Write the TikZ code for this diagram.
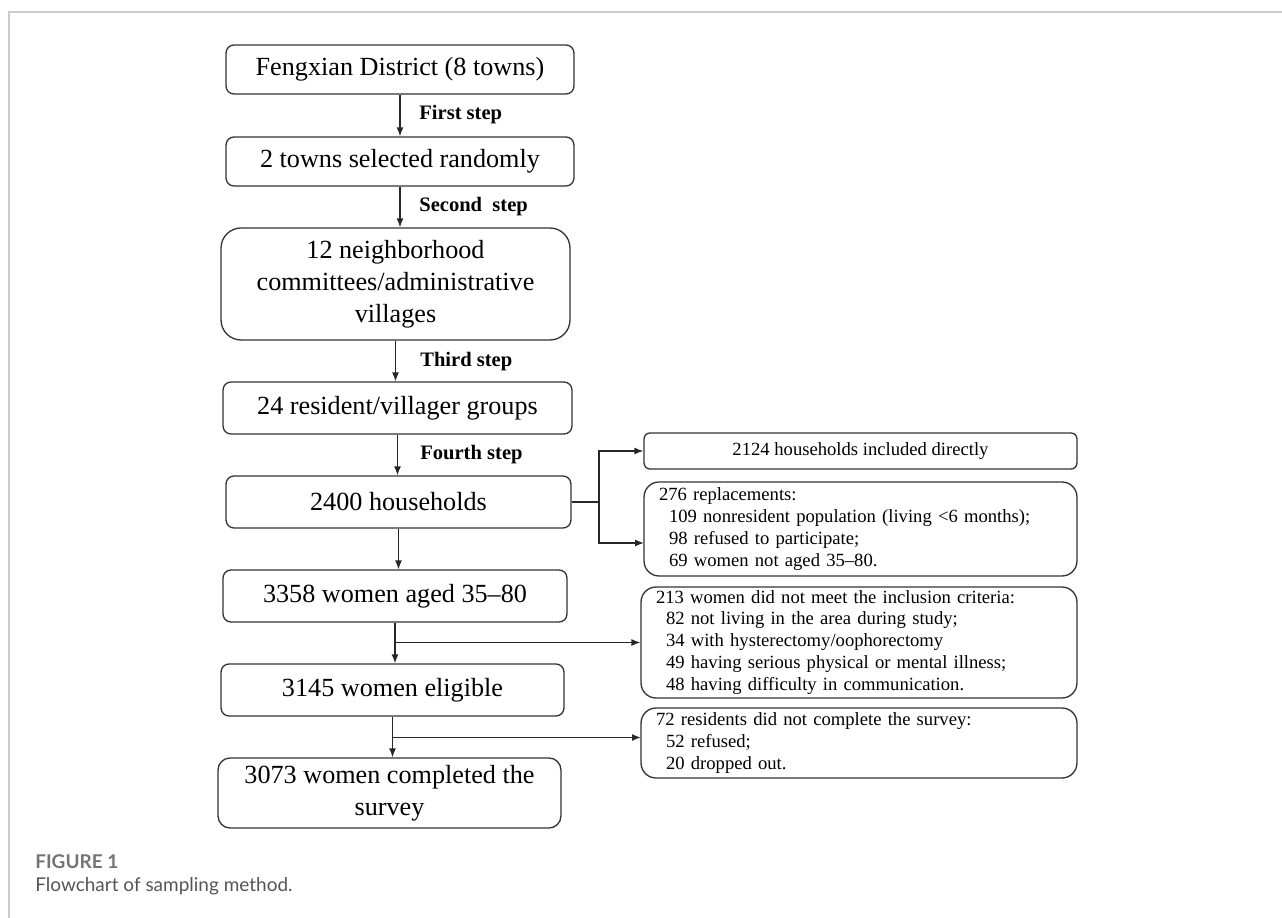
\documentclass[tikz,border=0pt]{standalone}
\usepackage{fontspec}
\setmainfont{Liberation Serif}
\newfontfamily\capfont{Lato}
\usepackage{tikz}
\usetikzlibrary{arrows.meta}

\definecolor{framegray}{HTML}{CCCCCC}
\definecolor{capgray}{HTML}{555555}
\definecolor{fignogray}{HTML}{747474}

\begin{document}
\begin{tikzpicture}[x=0.02cm, y=-0.02cm,
    mainbox/.style={draw=black!80, line width=0.75pt, rounded corners=0.16cm, align=center, inner sep=0pt,
        font=\fontsize{14.9}{18.2}\selectfont},
    sidebox/.style={draw=black!80, line width=0.75pt, rounded corners=0.3cm, align=left, inner ysep=0pt,
        inner xsep=0.3cm, font=\fontsize{10.6}{12.5}\selectfont},
    steplabel/.style={anchor=west, inner sep=0pt, font=\fontsize{11.7}{14}\selectfont\bfseries},
    arr/.style={-{Latex[length=0.18cm,width=0.14cm]}, line width=0.75pt, draw=black!85},
    link/.style={line width=0.75pt, draw=black!85}]

    % Page size and the frame lines at top and left
    \useasboundingbox (0,0) rectangle (1282,918);
    \draw[framegray, line width=0.85pt] (1282,12) -- (9,12) -- (9,918);

    % Main column of sampling stages
    \node[mainbox, minimum width=6.96cm, minimum height=0.98cm] (s1) at (400, 69.5) {Fengxian District (8 towns)};
    \node[mainbox, minimum width=6.96cm, minimum height=0.98cm] (s2) at (400, 161.5) {2 towns selected randomly};
    \node[mainbox, minimum width=6.98cm, minimum height=2.24cm, rounded corners=0.4cm] (s3) at (395.5, 284)
        {12 neighborhood\\committees/administrative\\villages};
    \node[mainbox, minimum width=6.98cm, minimum height=1.04cm] (s4) at (397.5, 408) {24 resident/villager groups};
    \node[mainbox, minimum width=6.9cm, minimum height=1.04cm] (s5) at (398.5, 502) {2400 households};
    \node[mainbox, minimum width=6.88cm, minimum height=1.04cm] (s6) at (395, 596) {3358 women aged 35--80};
    \node[mainbox, minimum width=6.86cm, minimum height=1.04cm] (s7) at (392.5, 690) {3145 women eligible};
    \node[mainbox, minimum width=6.86cm, minimum height=1.4cm, rounded corners=0.24cm] (s8) at (389.5, 793)
        {3073 women completed the\\survey};

    % Step labels beside the first four arrows
    \node[steplabel] (l1) at (419, 115) {First step};
    \node[steplabel] (l2) at (419, 207) {Second\ \ step};
    \node[steplabel] (l3) at (420, 362) {Third step};
    \node[steplabel] (l4) at (420, 455) {Fourth step};

    % Arrows down the main column
    \draw[arr] (s1.south) -- (s1.south |- s2.north);
    \draw[arr] (s2.south) -- (s2.south |- s3.north);
    \draw[arr] (s3.south) -- (s3.south |- s4.north);
    \draw[arr] (s4.south) -- (s4.south |- s5.north);
    \draw[arr] (s5.south) -- (s5.south |- s6.north);
    \draw[arr] (s6.south) -- (s6.south |- s7.north);
    \draw[arr] (s7.south) -- (s7.south |- s8.north);

    % Boxes on the right
    \node[sidebox, align=center, rounded corners=0.12cm, minimum width=8.66cm, minimum height=0.72cm] (direct)
        at (860.5, 451) {2124 households included directly};
    \node[sidebox, text width=8.06cm, minimum height=1.88cm] (replace) at (860.5, 529)
        {276 replacements:\\
         \hspace*{0.2cm}109 nonresident population (living <6 months);\\
         \hspace*{0.2cm}98 refused to participate;\\
         \hspace*{0.2cm}69 women not aged 35--80.};
    \node[sidebox, text width=8.12cm, minimum height=2.22cm] (exclude) at (859, 642.5)
        {213 women did not meet the inclusion criteria:\\
         \hspace*{0.2cm}82 not living in the area during study;\\
         \hspace*{0.2cm}34 with hysterectomy/oophorectomy\\
         \hspace*{0.2cm}49 having serious physical or mental illness;\\
         \hspace*{0.2cm}48 having difficulty in communication.};
    \node[sidebox, text width=8.12cm, minimum height=1.4cm] (incomplete) at (859, 743)
        {72 residents did not complete the survey:\\
         \hspace*{0.2cm}52 refused;\\
         \hspace*{0.2cm}20 dropped out.};

    % Branch from the households box
    \coordinate (split) at (599, 502);
    \coordinate (repin) at (644, 543);
    \draw[link] (s5.east) -- (split);
    \draw[arr] (split) |- (direct);
    \draw[arr] (split) |- (repin);

    % Side arrows for women left out
    \coordinate (incin) at (641, 737.5);
    \draw[arr] (s6.south |- exclude.west) -- (exclude.west);
    \draw[arr] (s7.south |- incin) -- (incin);

    % Caption
    \node[anchor=west, inner sep=0pt, text=fignogray, font=\capfont\bfseries\fontsize{10.8}{12}\selectfont] (figno)
        at (35, 862) {FIGURE 1};
    \node[anchor=west, inner sep=0pt, text=capgray, font=\capfont\fontsize{10.8}{12}\selectfont] (figcap)
        at (35, 886) {Flowchart of sampling method.};
\end{tikzpicture}
\end{document}
